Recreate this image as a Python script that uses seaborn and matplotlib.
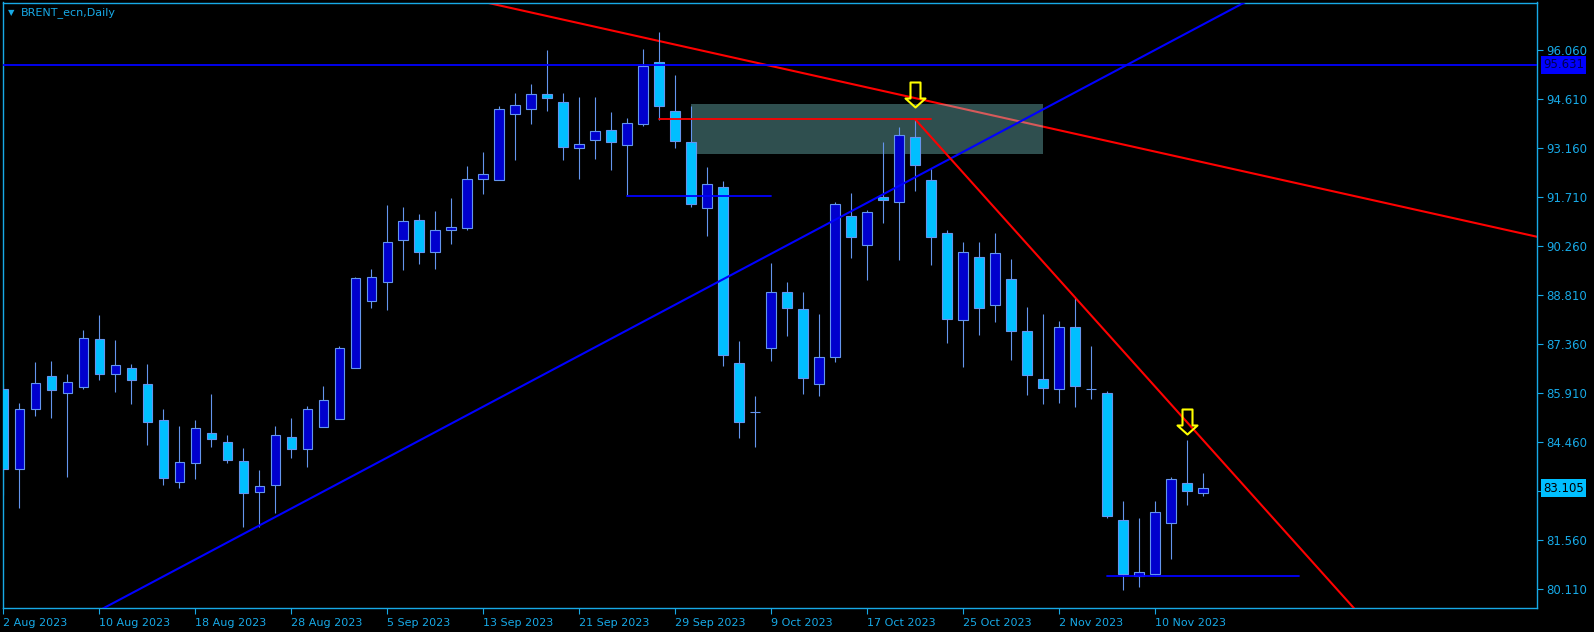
import numpy as np
import pandas as pd
import seaborn as sns
import matplotlib
matplotlib.use("Agg")
from matplotlib import pyplot as plt
from matplotlib.path import Path
from matplotlib.patches import Rectangle
from matplotlib.transforms import blended_transform_factory

# Daily BRENT candles, 2 Aug - 15 Nov 2023 (trading days)
dates = pd.bdate_range("2023-08-02", periods=76)
opens = [86.04, 83.66, 85.44, 86.44, 85.91, 86.11, 87.51, 86.49, 86.65, 86.18,
         85.11, 83.28, 83.84, 84.73, 84.46, 83.90, 82.98, 83.20, 84.61, 84.28,
         84.92, 85.14, 86.65, 88.66, 89.20, 90.44, 91.03, 90.09, 90.74, 90.82,
         92.25, 92.22, 94.17, 94.32, 94.76, 94.55, 93.16, 93.40, 93.70, 93.25,
         93.87, 95.71, 94.26, 93.34, 91.39, 92.01, 86.80, 85.37, 87.24, 88.90,
         88.40, 86.18, 86.98, 91.15, 90.29, 91.72, 91.59, 93.49, 92.22, 90.65,
         88.07, 89.94, 88.52, 89.29, 87.75, 86.33, 86.03, 87.89, 86.05, 85.91,
         82.15, 80.50, 80.58, 82.09, 83.25, 82.95]
highs = [86.19, 85.62, 86.84, 86.87, 86.48, 87.79, 88.23, 87.49, 86.78, 86.78,
         85.45, 84.94, 85.12, 85.89, 84.68, 84.29, 83.64, 84.94, 85.18, 85.54,
         86.13, 87.31, 89.35, 89.59, 91.48, 91.43, 91.22, 91.31, 91.69, 92.64,
         93.05, 94.41, 94.80, 95.06, 96.07, 94.79, 94.68, 94.68, 94.23, 94.05,
         96.10, 96.60, 95.33, 94.41, 92.61, 92.19, 87.46, 85.83, 89.77, 89.21,
         88.91, 88.26, 91.57, 91.84, 91.33, 93.35, 93.79, 94.02, 92.57, 90.74,
         90.38, 90.38, 90.65, 89.88, 88.46, 88.25, 88.04, 88.75, 87.30, 85.97,
         82.72, 82.21, 82.74, 83.43, 84.52, 83.57]
lows = [82.91, 82.53, 85.25, 85.19, 83.44, 86.04, 86.31, 85.96, 85.60, 84.39,
        83.21, 83.12, 83.38, 84.33, 83.86, 81.96, 81.96, 82.37, 84.01, 83.74,
        84.92, 85.14, 86.65, 88.45, 88.39, 89.57, 89.75, 89.60, 90.34, 90.76,
        91.82, 92.22, 92.83, 93.89, 94.28, 92.83, 92.26, 92.85, 92.53, 91.76,
        93.83, 94.01, 93.18, 91.43, 90.58, 86.73, 84.60, 84.33, 86.88, 87.62,
        85.88, 85.82, 86.85, 89.92, 89.27, 90.96, 89.87, 91.91, 89.72, 87.41,
        86.70, 87.65, 88.03, 86.91, 85.85, 85.61, 85.64, 85.52, 85.75, 82.21,
        80.09, 80.17, 80.53, 81.00, 82.62, 82.86]
closes = [83.66, 85.44, 86.21, 86.00, 86.24, 87.54, 86.49, 86.74, 86.30, 85.07,
          83.41, 83.87, 84.88, 84.57, 83.95, 82.95, 83.16, 84.67, 84.28, 85.44,
          85.73, 87.24, 89.32, 89.37, 90.38, 91.00, 90.11, 90.74, 90.85, 92.25,
          92.39, 94.32, 94.44, 94.76, 94.64, 93.21, 93.28, 93.67, 93.34, 93.90,
          95.59, 94.41, 93.39, 91.52, 92.10, 87.05, 85.05, 85.37, 88.90, 88.45,
          86.36, 86.98, 91.51, 90.55, 91.27, 91.64, 93.55, 92.68, 90.53, 88.12,
          90.09, 88.45, 90.06, 87.75, 86.47, 86.06, 87.87, 86.12, 86.05, 82.27,
          80.56, 80.64, 82.39, 83.37, 83.01, 83.105]

# price scale ticks (83.010 sits under the last-price box)
ytick_vals = [80.110, 81.560, 83.010, 84.460, 85.910, 87.360, 88.810,
              90.260, 91.710, 93.160, 94.610, 96.060]

# drawn objects (bar index, price)
level_line = 95.631
last_price = 83.105
blue_trend = ([0, 80], [77.98, 98.09])
red_trend_long = ([30, 100], [97.50, 90.11])
red_trend_steep = ([57, 90], [94.02, 76.61])
zone_bars = (43, 65)
zone_prices = (92.99, 94.47)
blue_segments = [((39, 48), 91.76), ((69, 81), 80.505)]
red_segments = [((41, 58), 94.04)]
arrow_bars = [57, 74]
arrow_prices = [94.376, 84.699]

fg = "#17A9E6"
bull_c = "#0000CD"
bear_c = "#00BFFF"
edge_c = "#6495ED"

sns.set_theme(style="dark", rc={
    "axes.facecolor": "black",
    "figure.facecolor": "black",
    "axes.edgecolor": fg,
    "axes.grid": False,
    "xtick.color": fg,
    "ytick.color": fg,
})
plt.rcParams["font.family"] = ["DejaVu Sans"]

df = pd.DataFrame({"date": dates, "open": opens, "high": highs,
                   "low": lows, "close": closes})
df["bar"] = np.arange(len(df))
df["body"] = df["close"] - df["open"]
df["fill"] = np.where(df["body"] > 0, bull_c, np.where(df["body"] < 0, bear_c, "none"))

fig = plt.figure(figsize=(15.94, 6.32), dpi=100)
ax = fig.add_axes([3 / 1594, 24 / 632, 1534 / 1594, 605.5 / 632])
ax.set_facecolor("black")

# zone rectangle (background)
zone = Rectangle((zone_bars[0], zone_prices[0]), zone_bars[1] - zone_bars[0],
                 zone_prices[1] - zone_prices[0], facecolor="#2F4F4F",
                 edgecolor="none", zorder=1)
ax.add_patch(zone)

# candles
ax.vlines(df["bar"], df["low"], df["high"], color=edge_c, lw=0.8, zorder=2)
ax.bar(df["bar"], df["body"], bottom=df["open"], width=0.6,
       color=df["fill"], edgecolor=edge_c, linewidth=0.8, zorder=3)

# trend lines
sns.lineplot(x=red_trend_long[0], y=red_trend_long[1], ax=ax, color="#FF0000",
             lw=1.5, zorder=0.5, legend=False)
inside, = ax.plot(red_trend_long[0], red_trend_long[1], color="#D65A5A",
                  lw=1.5, zorder=1.5)
inside.set_clip_path(zone)
sns.lineplot(x=blue_trend[0], y=blue_trend[1], ax=ax, color="#0000FF",
             lw=1.5, zorder=4, legend=False)
sns.lineplot(x=red_trend_steep[0], y=red_trend_steep[1], ax=ax, color="#FF0000",
             lw=1.5, zorder=4, legend=False)

ax.axhline(level_line, color="#0000FF", lw=1.3, zorder=4)
for (x0, x1), p in blue_segments:
    ax.plot([x0, x1], [p, p], color="#0000FF", lw=1.3, zorder=4)
for (x0, x1), p in red_segments:
    ax.plot([x0, x1], [p, p], color="#FF0000", lw=1.3, zorder=4)

# down arrows, tip at the point
arrow_path = Path([(0, 0), (10, 9), (5, 9), (5, 25), (-5, 25), (-5, 9), (-10, 9), (0, 0)],
                  [Path.MOVETO] + [Path.LINETO] * 6 + [Path.CLOSEPOLY])
ax.plot(arrow_bars, arrow_prices, ls="none", marker=arrow_path, markersize=36,
        markerfacecolor="none", markeredgecolor="#FFFF00", markeredgewidth=1.5,
        zorder=6)

ax.set_xlim(-0.02, 95.86)
ax.set_ylim(79.56, 97.48)

# axes styling
for s in ax.spines.values():
    s.set_color(fg)
    s.set_linewidth(1.0)
ax.yaxis.tick_right()
ax.set_yticks(ytick_vals)
ax.set_yticklabels(["" if v == 83.010 else f"{v:.3f}" for v in ytick_vals])
tick_rows = df.iloc[::6]
ax.set_xticks(tick_rows["bar"])
ax.set_xticklabels([f"{d.day} {d:%b %Y}" for d in tick_rows["date"]])
plt.setp(ax.get_xticklabels(), ha="left")
ax.tick_params(axis="x", length=4, width=0.8, pad=3, labelsize=8, colors=fg, bottom=True)
ax.tick_params(axis="y", length=4, width=0.8, pad=3, labelsize=8.5, colors=fg, right=True)
ax.set_xlabel("")
ax.set_ylabel("")

# price labels on the scale
tr = blended_transform_factory(ax.transAxes, ax.transData)
ax.text(1.004, level_line, "95.631", transform=tr, ha="left", va="center",
        fontsize=8.5, color="#000050", clip_on=False, zorder=10,
        bbox=dict(boxstyle="square,pad=0.2", fc="#0000FF", ec="none"))
ax.text(1.004, last_price, f"{last_price:.3f}", transform=tr, ha="left", va="center",
        fontsize=8.5, color="black", clip_on=False, zorder=10,
        bbox=dict(boxstyle="square,pad=0.2", fc="#00BFFF", ec="none"))

fig.text(11 / 1594, 1 - 12.5 / 632, "\u25BC", fontsize=6, color=fg, ha="center", va="center")
fig.text(21 / 1594, 1 - 12.7 / 632, "BRENT_ecn,Daily", fontsize=8, color=fg, va="center")

fig.savefig("out.png", dpi=100, facecolor="black")
